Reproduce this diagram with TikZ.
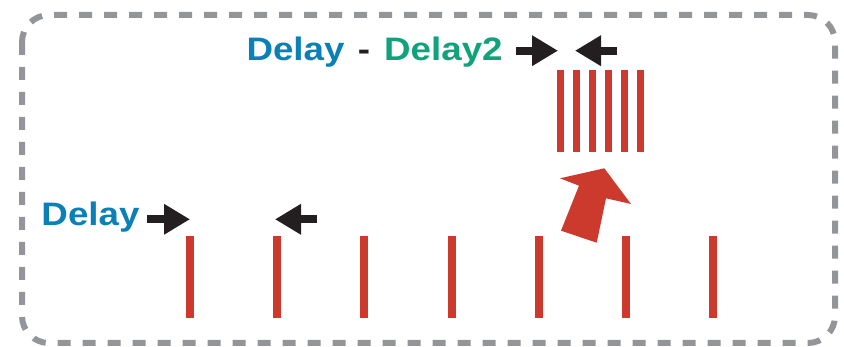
\documentclass[tikz,border=0pt]{standalone}
\usepackage{fontspec}
\setsansfont{Liberation Sans}[FakeStretch=1.13]
\usetikzlibrary{arrows.meta}
\definecolor{delayblue}{HTML}{0A80B6}
\definecolor{delaygreen}{HTML}{10A37B}
\definecolor{pulsered}{HTML}{CB3A2C}
\definecolor{arrowblack}{HTML}{231F20}
\definecolor{framegray}{HTML}{939598}
\begin{document}
\begin{tikzpicture}[x=1pt,y=-1pt,
  pulse/.style={draw=pulsered,line width=8pt},
  burst/.style={draw=pulsered,line width=7pt},
  squeeze/.style={draw=arrowblack,line width=8pt,-{Triangle[length=26pt,width=29pt]}},
  lbl/.style={inner sep=0pt,anchor=base west,font=\sffamily\bfseries\fontsize{32.5}{33}\selectfont}]
\useasboundingbox (0,0) rectangle (844,347);

\draw[framegray,line width=6pt,dash pattern=on 13pt off 12pt,rounded corners=27pt] (22,15) rectangle (835,343);

\node[lbl,text=delayblue] (delayA) at (41.3,226) {Delay};
\node[lbl,text=delayblue] (diffA) at (246.3,61) {Delay};
\node[lbl,text=arrowblack] (diffMinus) at (357.7,61) {-};
\node[lbl,text=delaygreen] (diffB) at (384,61) {Delay2};

\foreach \i in {0,...,6}
  \draw[pulse] (190+87.2*\i,236) -- (190+87.2*\i,318);
\foreach \i in {0,...,5}
  \draw[burst] (560.3+16*\i,70) -- (560.3+16*\i,152);

\coordinate (inL) at (147,219.3);
\coordinate (tipL) at (190,219.3);
\coordinate (inR) at (317,219.3);
\coordinate (tipR) at (275,219.3);
\draw[squeeze] (inL) -- (tipL);
\draw[squeeze] (inR) -- (tipR);

\coordinate (topInL) at (516,50.7);
\coordinate (topTipL) at (558,50.7);
\coordinate (topInR) at (617,50.7);
\coordinate (topTipR) at (575,50.7);
\draw[squeeze] (topInL) -- (topTipL);
\draw[squeeze] (topInR) -- (topTipR);

\fill[pulsered] (560,178.3) -- (604.3,168.3) -- (631,204) -- (606,198.3) -- (596.7,242.7) -- (561,230.7) -- (579,185.7) -- cycle;
\end{tikzpicture}
\end{document}
